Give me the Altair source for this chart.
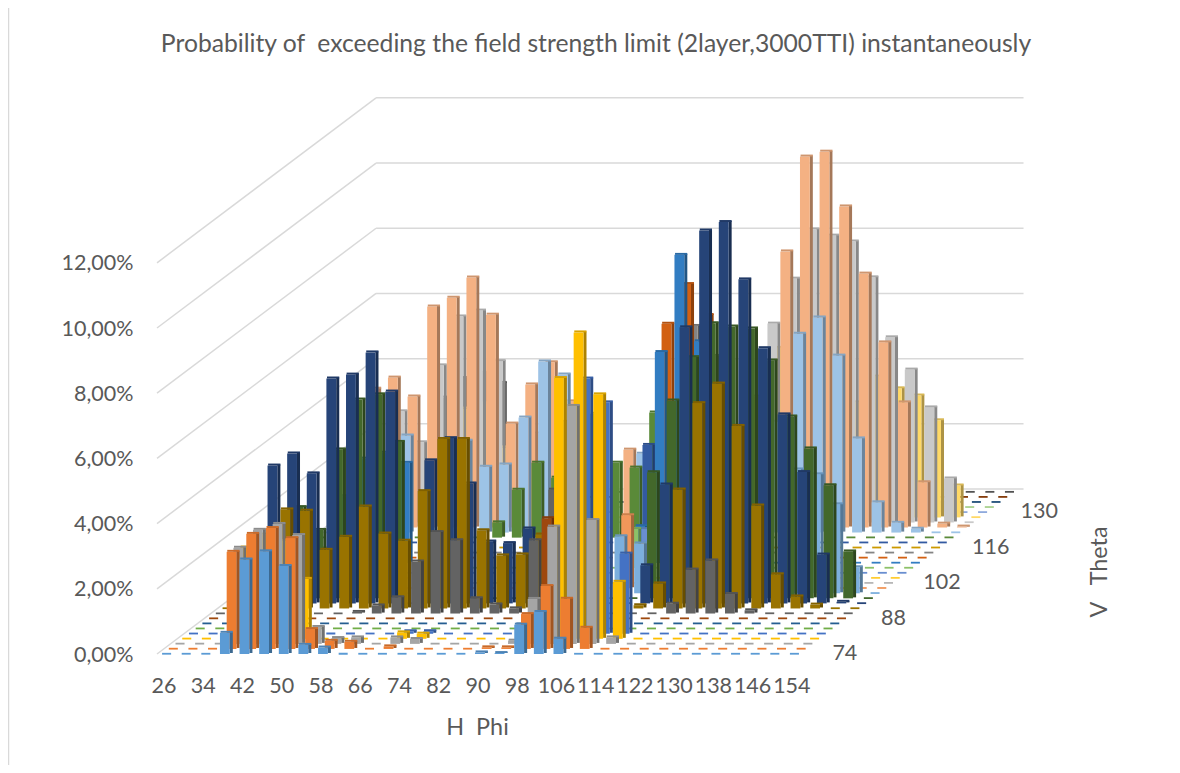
import altair as alt
import pandas as pd

TITLE = "Probability of\u00a0 exceeding the field strength limit (2layer,3000TTI) instantaneously"
PHI = list(range(26, 155, 4))      # 33 columns
THETA = list(range(74, 139, 2))    # 33 rows
Y_TICKS = [0, 2, 4, 6, 8, 10, 12]
DEPTH_TICKS = [0, 7, 14, 21, 28]

PALETTE = ["#5B9BD5","#ED7D31","#A5A5A5","#FFC000","#4472C4","#70AD47","#255E91","#9E480E","#636363","#997300",
           "#264478","#43682B","#7CAFDD","#F1975A","#B7B7B7","#FFCD33","#698ED0","#8CC168","#327DC2","#D26012",
           "#848484","#CC9A00","#335AA1","#5A8A39","#9DC3E6","#F4B183","#C9C9C9","#FFD966","#8FAADC","#A9D18E",
           "#1F4E79","#843C0C","#525252"]

# percent values per theta row: {column index: value}; all other cells are 0
S0 = {3:.65,4:2.9,5:3.15,6:2.7,7:.28,8:.2,16:.05,17:.03,18:.9,19:1.29,20:.47}
S1 = {3:2.98,4:3.53,5:3.71,6:3.4,7:.61,8:.25,9:.22,11:.08,16:.05,17:.05,18:1.07,19:1.93,20:1.54,21:.65}
S2 = {3:2.95,4:3.5,5:3.68,6:3.34,7:.52,8:.18,9:.2,11:.2,12:.15,17:.1,18:1.38,19:3.6,20:7.3,21:3.8,22:.2}
S3 = {3:2.8,4:3.2,5:3.0,6:1.84,11:.2,12:.16,19:8.0,20:9.4,21:7.5,22:1.75}
S4 = {11:.08,12:.08,19:6.5,20:7.83,21:7.1,22:2.46}
S5 = {}
S6 = {}
S7 = {17:3.08}
S8 = {7:.05,8:.25,9:.5,10:1.6,11:2.5,12:2.25,13:.47,14:.28,15:.16,16:2.25,17:3.8,23:.3,24:1.35,25:1.63,26:.6,27:.1}
S9 = {3:3.04,4:3.0,5:1.8,6:2.2,7:3.13,8:2.3,9:2.08,10:3.6,11:5.2,12:5.2,13:2.4,14:1.63,15:1.66,16:2.27,21:.1,
      22:.77,23:3.65,24:6.3,25:6.9,26:5.6,27:3.16,28:1.05,29:.37,30:.12}
S10 = {2:4.23,3:4.6,4:3.99,5:6.9,6:7.02,7:7.7,8:6.5,10:4.39,11:5.07,12:3.68,13:1.9,14:1.85,15:2.3,21:1.17,22:3.65,
       23:8.47,24:11.44,25:11.7,26:9.94,27:7.83,28:5.8,29:4.03,30:1.5,31:.05}
S11 = {3:2.8,4:2.1,5:4.57,6:6.1,7:6.26,8:4.8,21:3.87,22:6.07,23:7.4,24:8.44,25:8.34,26:8.28,27:7.3,28:5.58,29:4.6,
       30:3.47,31:1.44}
S12 = {19:1.75,20:1.53,28:3.8,29:3.65,30:2.73,31:.8}
S13 = {19:2.24,20:1.35}
S14 = {}
S15 = {}
S16 = {19:1.35}
S17 = {18:1.2}
S18 = {3:2.05,4:3.2,5:3.38,6:3.07,18:1.13,19:6.47,20:9.45,21:6.8}
S19 = {19:7.18,20:8.4,21:7.45}
S20 = {20:6.96,21:6.04}
S21 = {23:4.64}
S22 = {17:3.0}
S23 = {9:.47,10:1.47,11:2.3,12:1.84,14:3.8,15:2.3,16:2.15,17:3.84}
S24 = {4:2.98,7:2.82,8:2.02,9:2.09,10:3.53,11:5.25,12:4.85,16:2.42,23:3.4,24:6.1,25:6.6,26:5.43,27:2.89,28:.93,
       29:.3,30:.12}
S25 = {2:4.26,3:4.6,4:4.02,5:6.78,6:7.05,7:7.67,8:6.53,9:3.19,10:4.39,11:5.07,12:3.87,15:2.39,23:8.47,24:11.38,
       25:11.53,26:9.85,27:7.79,28:5.68,29:3.84,30:1.39,31:.12,32:.03}
S26 = {3:3.41,4:2.46,5:4.82,6:6.32,7:6.5,8:4.95,10:2.73,22:6.1,23:7.48,24:8.99,25:8.8,26:8.62,27:7.52,28:5.68,
       29:4.69,30:3.53,31:1.35}
S27 = {6:3.34,7:3.5,8:2.15,21:3.7,22:5.2,26:3.53,27:4.32,28:3.96,29:3.74,30:2.98,31:.98}
S28 = {30:.3}
S29 = {}
S30 = {}
S31 = {}
S32 = {3:2.9,4:3.5,5:3.66,6:3.35}
SERIES = [S0,S1,S2,S3,S4,S5,S6,S7,S8,S9,S10,S11,S12,S13,S14,S15,S16,S17,S18,S19,S20,S21,S22,S23,S24,S25,S26,S27,
          S28,S29,S30,S31,S32]

# oblique projection, in scale units
COL_PER_ROW = 0.3425    # shift along x (columns) per theta row
PCT_PER_ROW = 0.1552    # shift along y (percent) per theta row
HALF = 0.25             # half a bar's front, in columns
SIDE_X = 0.155          # bar depth along x
TOP_Y = 0.06            # bar depth along y


def shade(hex_color, f):
    r, g, b = (int(hex_color[i:i + 2], 16) for i in (1, 3, 5))
    return "#%02x%02x%02x" % (int(r * f), int(g * f), int(b * f))


faces = []
for r in range(len(THETA) - 1, -1, -1):
    for c in range(len(PHI)):
        v = SERIES[r].get(c, 0)
        u = c + COL_PER_ROW * r
        base = PCT_PER_ROW * r
        col = PALETTE[r]
        if v > 0:
            faces.append(dict(x=u + HALF, x2=u + HALF + SIDE_X, y=base + TOP_Y / 2, y2=base + v + TOP_Y / 2,
                              fill=shade(col, .68)))
            faces.append(dict(x=u - HALF, x2=u + HALF, y=base, y2=base + v, fill=col))
            faces.append(dict(x=u - HALF + .03, x2=u + HALF + SIDE_X, y=base + v, y2=base + v + TOP_Y,
                              fill=shade(col, .85)))
        else:
            faces.append(dict(x=u - .2, x2=u + .26, y=base - .02, y2=base + .035, fill=col))
bars = pd.DataFrame(faces)

# walls and their gridlines
FLOOR_L = -0.459
FLOOR_W = 33.0
FLOOR_ROWS = 32.6
bx = FLOOR_L + COL_PER_ROW * FLOOR_ROWS
by = PCT_PER_ROW * FLOOR_ROWS
rules = []
for t in Y_TICKS:
    rules.append(dict(x=FLOOR_L, x2=bx, y=t, y2=t + by))
    rules.append(dict(x=bx, x2=bx + FLOOR_W, y=t + by, y2=t + by))
rules = pd.DataFrame(rules)

depth = pd.DataFrame([dict(x=34.6 + COL_PER_ROW * r + 0.08 * i, y=PCT_PER_ROW * r, t=str(THETA[r]))
                      for i, r in enumerate(DEPTH_TICKS)])

XDOM = [FLOOR_L, FLOOR_L + 893 / 19.62]
YDOM = [-18 / 32.6, 562 / 32.6]
FONT = "Lato"
GREY = "#595959"
SIZE = 21.5
AXIS_TITLE_SIZE = 23.4
xs = alt.Scale(domain=XDOM, nice=False, zero=False)
ys = alt.Scale(domain=YDOM, nice=False, zero=False)

grid = alt.Chart(rules).mark_rule(color="#D9D9D9", strokeWidth=1.5).encode(
    x=alt.X("x:Q", scale=xs, axis=alt.Axis(values=list(range(0, 33, 2)),
                                           labelExpr="format(26 + 4 * datum.value, 'd')",
                                           domain=False, ticks=False, grid=False, labelPadding=3,
                                           labelOffset=-2.5,
                                           labelFont=FONT, labelFontSize=SIZE, labelColor=GREY,
                                           labelFlush=False, labelOverlap=False,
                                           title="H\u00a0 Phi", titleFont=FONT, titleFontSize=AXIS_TITLE_SIZE,
                                           titleColor=GREY,
                                           titleFontWeight="normal", titleX=320, titleY=44)),
    x2="x2:Q",
    y=alt.Y("y:Q", scale=ys, axis=alt.Axis(values=Y_TICKS,
                                           labelExpr="replace(format(datum.value, '.2f'), '.', ',') + '%'",
                                           domain=False, ticks=False, grid=False, labelPadding=24,
                                           labelOffset=1,
                                           labelFont=FONT, labelFontSize=SIZE, labelColor=GREY, title=None)),
    y2="y2:Q",
)
rects = alt.Chart(bars).mark_rect(strokeWidth=0).encode(
    x=alt.X("x:Q", scale=xs), x2="x2:Q", y=alt.Y("y:Q", scale=ys), y2="y2:Q",
    color=alt.Color("fill:N", scale=None),
)
depth_text = alt.Chart(depth).mark_text(font=FONT, fontSize=SIZE, color=GREY).encode(
    x=alt.X("x:Q", scale=xs), y=alt.Y("y:Q", scale=ys), text="t:N",
)
v_title = alt.Chart(pd.DataFrame({"t": ["V\u00a0\u00a0 Theta"]})).mark_text(
    font=FONT, fontSize=AXIS_TITLE_SIZE, color=GREY, angle=270).encode(
    x=alt.value(943), y=alt.value(480), text="t:N")
title = alt.Chart(pd.DataFrame({"t": [TITLE]})).mark_text(
    font=FONT, fontSize=24.7, color=GREY).encode(
    x=alt.value(439), y=alt.value(-47), text="t:N")
edge = alt.Chart(pd.DataFrame({"a": [0]})).mark_rule(color="#D9D9D9", strokeWidth=1.5).encode(
    x=alt.value(-148.5), y=alt.value(-92), y2=alt.value(681))

chart = alt.layer(edge, grid, rects, depth_text, v_title, title).properties(
    width=893, height=580,
    padding={"left": 149, "top": 84, "right": 122, "bottom": 93},
    autosize=alt.AutoSizeParams(type="none"),
).configure_view(stroke=None)

chart.save("out.html", embed_options={"renderer": "svg", "actions": False})
